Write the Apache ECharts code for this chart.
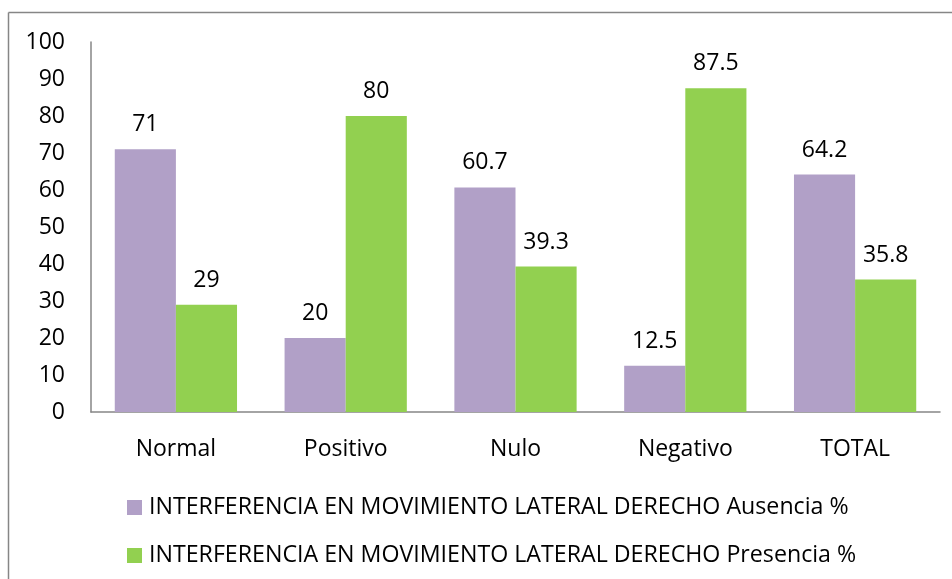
<!DOCTYPE html>
<html><head><meta charset="utf-8">
<script src="https://cdn.jsdelivr.net/npm/echarts@6/dist/echarts.min.js"></script>
<style>html,body{margin:0;padding:0;background:#fff}#c{width:952px;height:579px}</style>
</head><body><div id="c"></div>
<script>
const categories = ['Normal', 'Positivo', 'Nulo', 'Negativo', 'TOTAL'];
const ausencia = [71, 20, 60.7, 12.5, 64.2];
const presencia = [29, 80, 39.3, 87.5, 35.8];
const seriesNames = [
  'INTERFERENCIA EN MOVIMIENTO LATERAL DERECHO Ausencia %',
  'INTERFERENCIA EN MOVIMIENTO LATERAL DERECHO Presencia %'
];
const yTicks = [0, 10, 20, 30, 40, 50, 60, 70, 80, 90, 100];

const FONT = 'Open Sans';
const FS = 23;
const chart = echarts.init(document.getElementById('c'), null, {renderer: 'canvas'});
const lbl = {show: true, position: 'top', distance: 13, color: '#000', fontSize: FS, fontFamily: FONT};
chart.setOption({
  animation: false,
  textStyle: {fontFamily: FONT},
  grid: {left: 91, right: 12, top: 42, bottom: 167, containLabel: false},
  graphic: [
    {type: 'line', shape: {x1: 8.5, y1: 12.5, x2: 952, y2: 12.5}, style: {stroke: '#868686', lineWidth: 1.5}},
    {type: 'line', shape: {x1: 8.5, y1: 12.5, x2: 8.5, y2: 579}, style: {stroke: '#868686', lineWidth: 1.5}}
  ],
  legend: {
    orient: 'vertical', left: 122, top: 491, itemWidth: 15, itemHeight: 15, itemGap: 25,
    icon: 'rect',
    textStyle: {fontSize: 23.2, color: '#000', fontFamily: FONT, padding: [0, 0, 0, 2]},
    data: seriesNames
  },
  xAxis: {
    type: 'category', data: categories,
    axisLine: {lineStyle: {color: '#868686', width: 1.5}},
    axisTick: {show: false},
    axisLabel: {color: '#000', fontSize: FS, fontFamily: FONT, margin: 26}
  },
  yAxis: {
    type: 'value', min: 0, max: 100, interval: 10,
    axisLine: {show: true, lineStyle: {color: '#868686', width: 1.5}},
    axisTick: {show: false},
    splitLine: {show: false},
    axisLabel: {color: '#000', fontSize: FS, fontFamily: FONT, margin: 26,
      formatter: v => yTicks.includes(v) ? String(v) : ''}
  },
  series: [
    {name: seriesNames[0], type: 'bar', data: ausencia, barGap: '0%', barCategoryGap: '28%',
     itemStyle: {color: '#B1A0C7'}, label: lbl},
    {name: seriesNames[1], type: 'bar', data: presencia, barGap: '0%', barCategoryGap: '28%',
     itemStyle: {color: '#92D050'}, label: lbl}
  ]
});
</script></body></html>
